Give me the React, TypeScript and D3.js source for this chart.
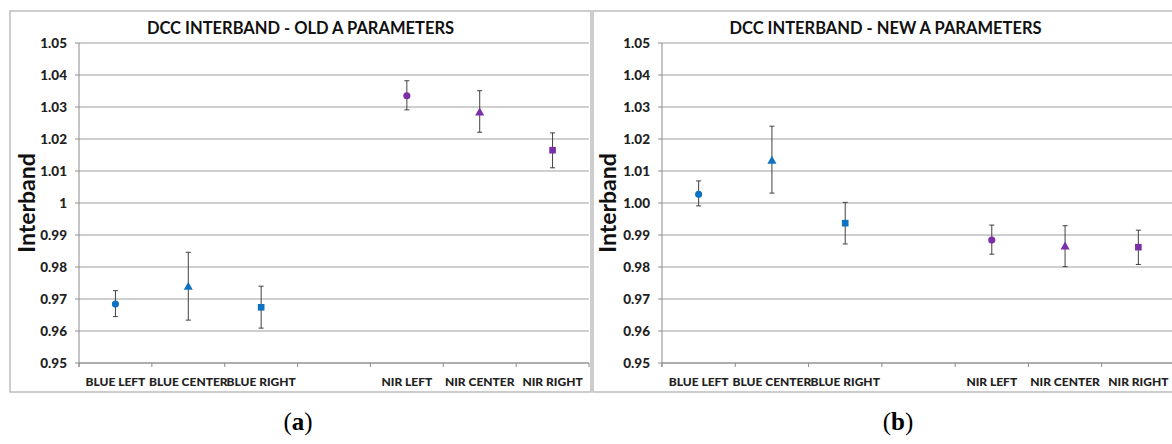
import React from "react";
import * as d3 from "d3";

const categories = ["BLUE LEFT", "BLUE CENTER", "BLUE RIGHT", "", "NIR LEFT", "NIR CENTER", "NIR RIGHT"];
const yTicks = [0.95, 0.96, 0.97, 0.98, 0.99, 1.0, 1.01, 1.02, 1.03, 1.04, 1.05];

// Panel (a): old A parameters
const oldValues = [0.9684, 0.9737, 0.9674, null, 1.0335, 1.0282, 1.0165];
const oldHigh = [0.9726, 0.9846, 0.974, null, 1.0382, 1.0351, 1.0219];
const oldLow = [0.9645, 0.9634, 0.9609, null, 1.0291, 1.0221, 1.011];

// Panel (b): new A parameters
const newValues = [1.0027, 1.0131, 0.9937, null, 0.9884, 0.9863, 0.9862];
const newHigh = [1.0069, 1.024, 1.0002, null, 0.9931, 0.9929, 0.9915];
const newLow = [0.9991, 1.0031, 0.9872, null, 0.984, 0.9801, 0.9808];

const markerShapes = ["circle", "triangle", "square", "", "circle", "triangle", "square"];
const markerColors = ["#0F71C2", "#0F71C2", "#0F71C2", "", "#7A2FA8", "#7A2FA8", "#7A2FA8"];

type PanelProps = {
  title: string;
  values: (number | null)[];
  high: (number | null)[];
  low: (number | null)[];
  frame: [number, number, number, number];
  plot: [number, number, number, number];
  tickFormat: (v: number) => string;
  yTitleX: number;
  caption: string;
  captionX: number;
};

const symbolFor = (s: string) =>
  s === "circle" ? d3.symbolCircle : s === "triangle" ? d3.symbolTriangle : d3.symbolSquare;
const sizeFor = (s: string) => (s === "circle" ? 40 : s === "triangle" ? 36 : 44);

function Panel(p: PanelProps) {
  const [fx0, fy0, fx1, fy1] = p.frame;
  const [px0, py0, px1, py1] = p.plot;
  const keys = categories.map((c, i) => c || `gap${i}`);
  const x = d3.scaleBand<string>().domain(keys).range([px0, px1]).padding(0);
  const y = d3.scaleLinear().domain([0.95, 1.05]).range([py1, py0]);
  const bw = x.bandwidth();
  const font = "Lato, 'Open Sans', sans-serif";
  return (
    <g>
      <rect x={fx0} y={fy0} width={fx1 - fx0} height={fy1 - fy0} fill="#fff" stroke="#BDBDBD" strokeWidth={1.5} />
      <text x={(fx0 + fx1) / 2} y={34} textAnchor="middle" fontFamily={font} fontWeight={700} fontSize={16.5} fill="#111">
        {p.title}
      </text>
      {yTicks.map((t) => (
        <g key={t}>
          <line x1={px0} x2={px1} y1={y(t)} y2={y(t)} stroke="#BFBFBF" strokeWidth={1.3} />
          <line x1={px0 - 4} x2={px0} y1={y(t)} y2={y(t)} stroke="#8C8C8C" strokeWidth={1} />
          <text x={px0 - 12} y={y(t) + 5} textAnchor="end" fontFamily={font} fontWeight={900} fontSize={13.5} fill="#222">
            {p.tickFormat(t)}
          </text>
        </g>
      ))}
      <line x1={px0} x2={px0} y1={py0} y2={py1 + 4} stroke="#8C8C8C" strokeWidth={1} />
      <line x1={px0} x2={px1} y1={py1} y2={py1} stroke="#8C8C8C" strokeWidth={1} />
      {keys.map((k) => (
        <line key={"t" + k} x1={x(k)!} x2={x(k)!} y1={py1} y2={py1 + 4} stroke="#8C8C8C" strokeWidth={1} />
      ))}
      <line x1={px1} x2={px1} y1={py1} y2={py1 + 4} stroke="#8C8C8C" strokeWidth={1} />
      {categories.map((c, i) =>
        c ? (
          <text key={"l" + c} x={x(keys[i])! + bw / 2} y={386} textAnchor="middle" fontFamily={font} fontWeight={900} fontSize={12} fill="#222">
            {c}
          </text>
        ) : null
      )}
      <text
        transform={`translate(${p.yTitleX},${(py0 + py1) / 2}) rotate(-90)`}
        textAnchor="middle"
        fontFamily={font}
        fontWeight={700}
        fontSize={23}
        fill="#111"
      >
        Interband
      </text>
      {p.values.map((v, i) => {
        if (v == null) return null;
        const cx = x(keys[i])! + bw / 2;
        const hi = p.high[i]!;
        const lo = p.low[i]!;
        const path = d3.symbol().type(symbolFor(markerShapes[i])).size(sizeFor(markerShapes[i]))();
        return (
          <g key={"m" + i}>
            <line x1={cx} x2={cx} y1={y(hi)} y2={y(lo)} stroke="#404040" strokeWidth={1} />
            <line x1={cx - 2.5} x2={cx + 2.5} y1={y(hi)} y2={y(hi)} stroke="#404040" strokeWidth={1} />
            <line x1={cx - 2.5} x2={cx + 2.5} y1={y(lo)} y2={y(lo)} stroke="#404040" strokeWidth={1} />
            <path d={path || ""} transform={`translate(${cx},${y(v)})`} fill={markerColors[i]} />
          </g>
        );
      })}
      <text x={p.captionX} y={430} textAnchor="middle" fontFamily="'Liberation Serif', 'DejaVu Serif', serif" fontSize={25} fill="#000">
        (<tspan fontWeight={700}>{p.caption}</tspan>)
      </text>
    </g>
  );
}

export default function App() {
  return (
    <svg width={1172} height={444} style={{ position: "absolute", left: 0, top: 0, background: "#fff" }}>
      <rect x={0} y={0} width={1172} height={444} fill="#fff" />
      <Panel
        title="DCC INTERBAND - OLD A PARAMETERS"
        values={oldValues}
        high={oldHigh}
        low={oldLow}
        frame={[10, 11, 591, 392]}
        plot={[79, 43, 589, 363]}
        tickFormat={(v) => d3.format("~g")(+v.toFixed(2))}
        yTitleX={35}
        caption="a"
        captionX={298}
      />
      <Panel
        title="DCC INTERBAND - NEW A PARAMETERS"
        values={newValues}
        high={newHigh}
        low={newLow}
        frame={[593, 11, 1178, 392]}
        plot={[662, 43, 1175, 363]}
        tickFormat={(v) => d3.format(".2f")(v)}
        yTitleX={616}
        caption="b"
        captionX={898}
      />
    </svg>
  );
}
